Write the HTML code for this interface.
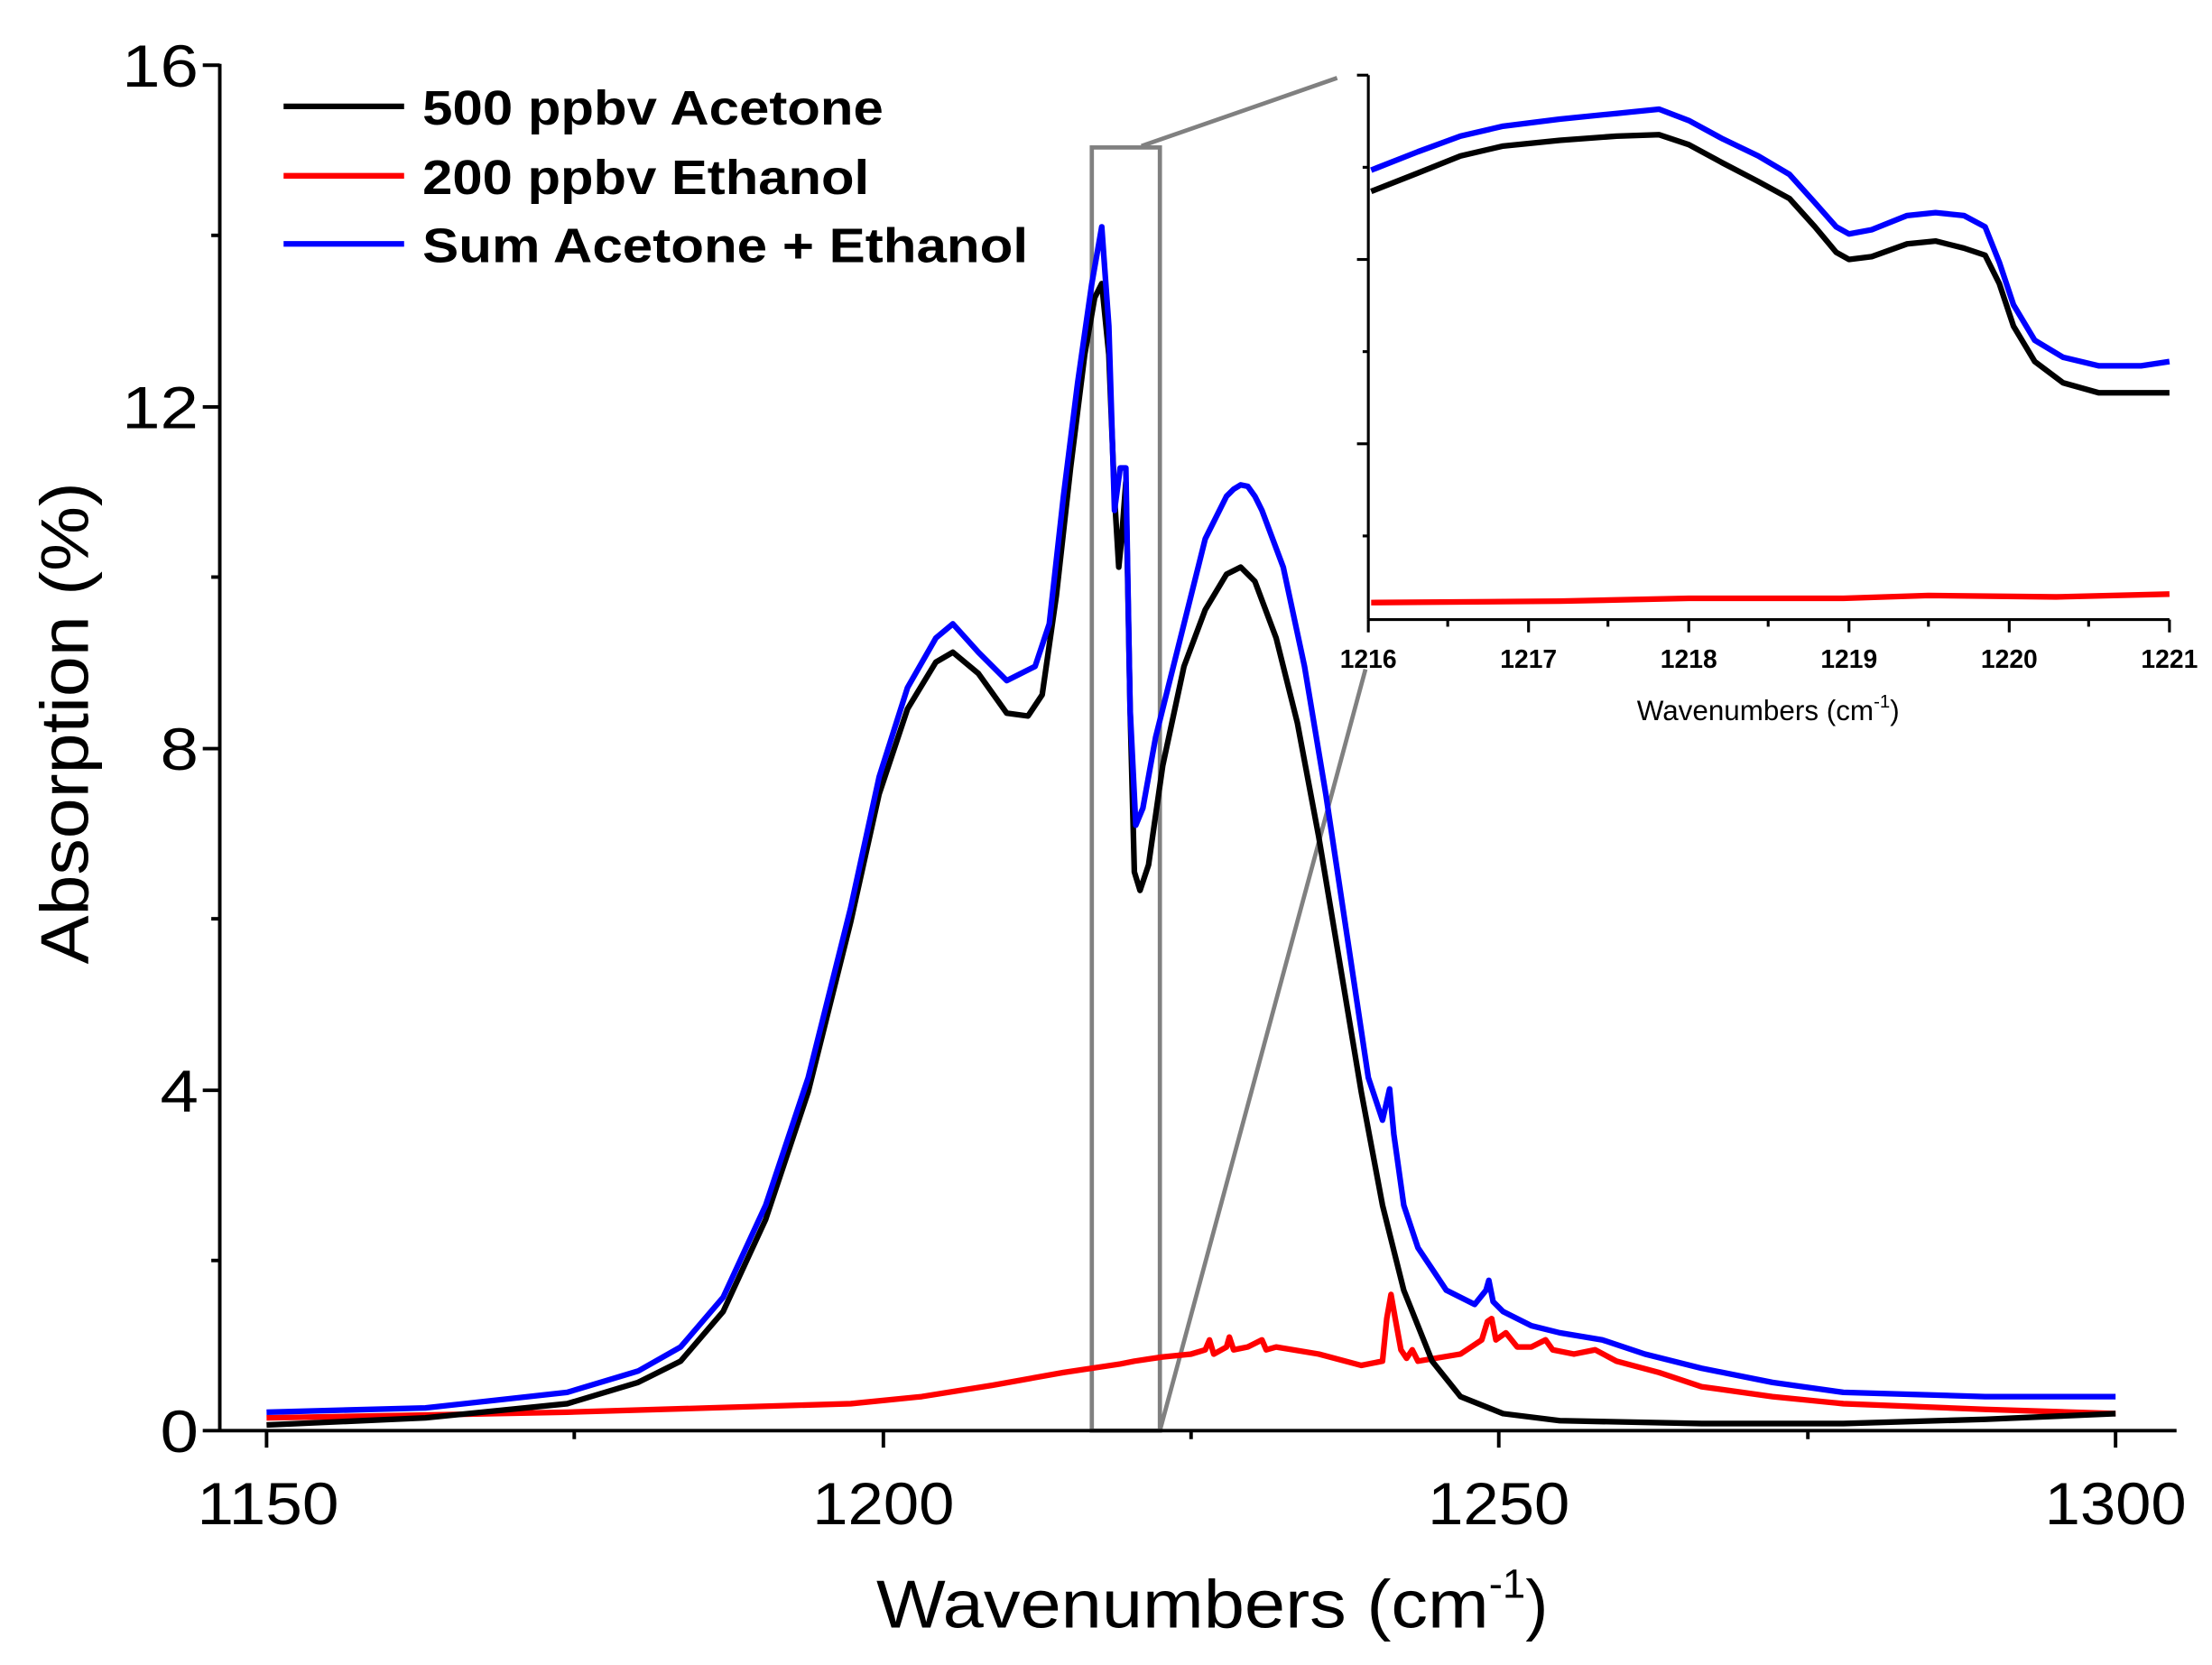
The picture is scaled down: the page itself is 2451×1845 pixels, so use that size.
<!DOCTYPE html>
<html><head><meta charset="utf-8"><style>
html,body{margin:0;padding:0;background:#fff}
svg{display:block}
text{font-family:"Liberation Sans",Arial,sans-serif}
</style></head><body>
<svg width="2451" height="1845" viewBox="0 0 1560 1174.3" preserveAspectRatio="none" xmlns="http://www.w3.org/2000/svg">
<rect width="1560" height="1175" fill="#fff"/>
<g stroke="#808080" stroke-width="3" fill="none">
<rect x="770" y="104" width="48" height="905"/>
<line x1="805" y1="103" x2="943" y2="55"/>
<line x1="818" y1="1009" x2="963" y2="472"/>
</g>
<g stroke="#000" stroke-width="2.5" fill="none">
<line x1="155" y1="45" x2="155" y2="1009"/>
<line x1="155" y1="1009" x2="1535" y2="1009"/>
<line x1="143" y1="46" x2="155" y2="46"/><line x1="143" y1="287" x2="155" y2="287"/><line x1="143" y1="528" x2="155" y2="528"/><line x1="143" y1="769" x2="155" y2="769"/><line x1="143" y1="1009" x2="155" y2="1009"/>
<line x1="149" y1="166" x2="155" y2="166"/><line x1="149" y1="407" x2="155" y2="407"/><line x1="149" y1="648" x2="155" y2="648"/><line x1="149" y1="889" x2="155" y2="889"/>
<line x1="188" y1="1009" x2="188" y2="1021"/><line x1="623" y1="1009" x2="623" y2="1021"/><line x1="1057" y1="1009" x2="1057" y2="1021"/><line x1="1492" y1="1009" x2="1492" y2="1021"/>
<line x1="405" y1="1009" x2="405" y2="1015"/><line x1="840" y1="1009" x2="840" y2="1015"/><line x1="1275" y1="1009" x2="1275" y2="1015"/>
</g>
<g font-size="42" fill="#000">
<text x="86" y="61" textLength="54" lengthAdjust="spacingAndGlyphs">16</text><text x="86" y="302" textLength="54" lengthAdjust="spacingAndGlyphs">12</text><text x="113" y="543" textLength="27" lengthAdjust="spacingAndGlyphs">8</text><text x="113" y="784" textLength="27" lengthAdjust="spacingAndGlyphs">4</text><text x="113" y="1024" textLength="27" lengthAdjust="spacingAndGlyphs">0</text>
</g>
<g font-size="42" fill="#000">
<text x="139" y="1075" textLength="100" lengthAdjust="spacingAndGlyphs">1150</text><text x="573" y="1075" textLength="100" lengthAdjust="spacingAndGlyphs">1200</text><text x="1007" y="1075" textLength="100" lengthAdjust="spacingAndGlyphs">1250</text><text x="1442" y="1075" textLength="100" lengthAdjust="spacingAndGlyphs">1300</text>
</g>
<text x="618" y="1148" font-size="48"><tspan textLength="432" lengthAdjust="spacingAndGlyphs">Wavenumbers (cm</tspan><tspan font-size="29" dy="-21">-1</tspan><tspan dy="21">)</tspan></text>
<text transform="translate(62,510) rotate(-90)" font-size="48" text-anchor="middle" textLength="340" lengthAdjust="spacingAndGlyphs">Absorption (%)</text>
<g fill="none" stroke-width="4" stroke-linejoin="round">
<polyline stroke="#ff0000" points="188,1000 300,998 400,996 500,993 600,990 650,985 700,977 750,968 790,962 800,960 820,957 840,955 850,952 853,945 856,955 865,950 867,943 870,952 880,950 890,945 893,952 900,950 930,955 960,963 975,960 978,930 981,913 984,930 988,952 992,958 996,952 1000,960 1030,955 1045,945 1049,932 1052,930 1055,945 1062,940 1070,950 1080,950 1090,945 1095,952 1110,955 1125,952 1140,960 1170,968 1200,978 1250,985 1300,990 1400,994 1492,997"/>
<polyline stroke="#000" points="188,1005 300,1000 400,990 450,975 480,960 510,925 540,860 570,770 600,650 620,560 640,500 660,467 672,460 690,475 710,503 725,505 735,490 745,420 755,330 765,250 772,210 777,200 782,250 786,350 789,400 791,380 794,340 797,500 800,615 804,628 810,610 820,540 835,470 850,430 865,405 875,400 885,410 900,450 915,510 930,590 945,680 960,770 975,850 990,910 1010,960 1030,985 1060,997 1100,1002 1200,1004 1300,1004 1400,1001 1492,997"/>
<polyline stroke="#0000ff" points="188,996 300,993 400,982 450,967 480,950 510,915 540,850 570,760 600,640 620,548 640,485 660,450 672,440 690,460 710,480 730,470 740,440 750,350 760,270 770,200 777,160 782,230 786,360 790,330 794,330 797,500 801,582 806,570 815,520 830,460 845,400 850,380 855,370 865,350 870,345 875,342 880,343 885,350 890,360 905,400 920,470 935,560 950,660 965,760 975,790 980,768 983,800 990,850 1000,880 1010,895 1020,910 1040,920 1048,910 1050,903 1053,918 1060,925 1080,935 1100,940 1130,945 1160,955 1200,965 1250,975 1300,982 1400,985 1492,985"/>
</g>
<g stroke-width="4">
<line x1="200" y1="75" x2="285" y2="75" stroke="#000"/>
<line x1="200" y1="124" x2="285" y2="124" stroke="#ff0000"/>
<line x1="200" y1="172" x2="285" y2="172" stroke="#0000ff"/>
</g>
<g font-size="34" font-weight="bold" fill="#000">
<text x="298" y="88" textLength="325" lengthAdjust="spacingAndGlyphs">500 ppbv Acetone</text>
<text x="298" y="137" textLength="315" lengthAdjust="spacingAndGlyphs">200 ppbv Ethanol</text>
<text x="298" y="185" textLength="427" lengthAdjust="spacingAndGlyphs">Sum Acetone + Ethanol</text>
</g>
<g stroke="#000" stroke-width="2" fill="none">
<line x1="965" y1="53" x2="965" y2="437"/>
<line x1="965" y1="437" x2="1530" y2="437"/>
<line x1="957" y1="53" x2="965" y2="53"/><line x1="957" y1="183" x2="965" y2="183"/><line x1="957" y1="313" x2="965" y2="313"/>
<line x1="961" y1="118" x2="965" y2="118"/><line x1="961" y1="248" x2="965" y2="248"/><line x1="961" y1="378" x2="965" y2="378"/>
<line x1="965" y1="437" x2="965" y2="446"/><line x1="1078" y1="437" x2="1078" y2="446"/><line x1="1191" y1="437" x2="1191" y2="446"/><line x1="1304" y1="437" x2="1304" y2="446"/><line x1="1417" y1="437" x2="1417" y2="446"/><line x1="1530" y1="437" x2="1530" y2="446"/>
<line x1="1021" y1="437" x2="1021" y2="442"/><line x1="1134" y1="437" x2="1134" y2="442"/><line x1="1247" y1="437" x2="1247" y2="442"/><line x1="1360" y1="437" x2="1360" y2="442"/><line x1="1473" y1="437" x2="1473" y2="442"/>
</g>
<g font-size="18" font-weight="bold" text-anchor="middle">
<text x="965" y="471">1216</text><text x="1078" y="471">1217</text><text x="1191" y="471">1218</text><text x="1304" y="471">1219</text><text x="1417" y="471">1220</text><text x="1530" y="471">1221</text>
</g>
<text x="1247" y="508" font-size="20" text-anchor="middle">Wavenumbers (cm<tspan font-size="13" dy="-9">-1</tspan><tspan dy="9">)</tspan></text>
<g fill="none" stroke-width="4" stroke-linejoin="round">
<polyline stroke="#ff0000" points="967,425 1100,424 1191,422 1300,422 1360,420 1450,421 1530,419"/>
<polyline stroke="#000" points="967,135 1000,122 1030,110 1060,103 1100,99 1140,96 1170,95 1191,102 1215,115 1240,128 1262,140 1280,160 1295,178 1304,183 1320,181 1345,172 1365,170 1385,175 1400,180 1410,200 1420,230 1435,255 1455,270 1480,277 1530,277"/>
<polyline stroke="#0000ff" points="967,120 1000,107 1030,96 1060,89 1100,84 1140,80 1170,77 1191,85 1215,98 1240,110 1262,123 1280,143 1295,160 1304,165 1320,162 1345,152 1365,150 1385,152 1400,160 1410,185 1420,215 1435,240 1455,252 1480,258 1510,258 1530,255"/>
</g>
</svg>
</body></html>
